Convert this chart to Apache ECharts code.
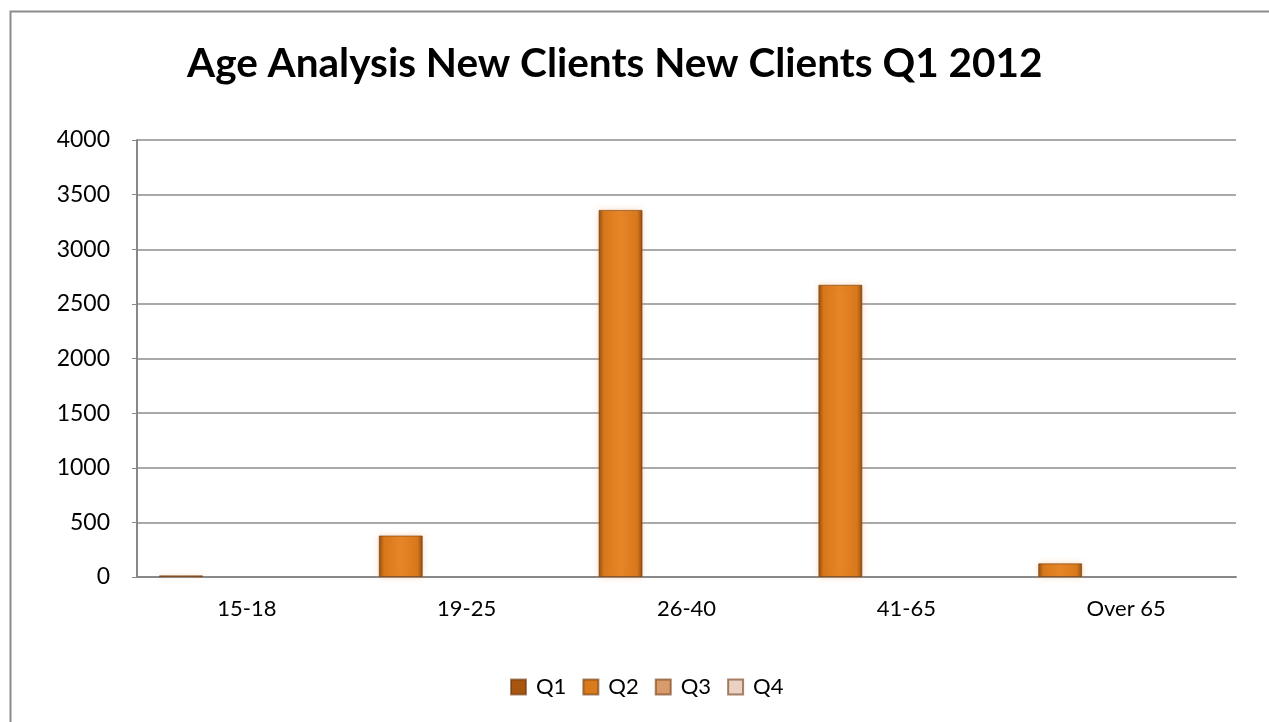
<!DOCTYPE html>
<html>
<head>
<meta charset="utf-8">
<script src="https://cdn.jsdelivr.net/npm/echarts@6/dist/echarts.min.js"></script>
<style>html,body{margin:0;padding:0;background:#fff;}#c{width:1269px;height:722px;}</style>
</head>
<body>
<div id="c"></div>
<script>
var categories = ['15-18', '19-25', '26-40', '41-65', 'Over 65'];
var seriesNames = ['Q1', 'Q2', 'Q3', 'Q4'];
var q1 = [15, 380, 3360, 2675, 125];
var q2 = [0, 0, 0, 0, 0];
var q3 = [0, 0, 0, 0, 0];
var q4 = [0, 0, 0, 0, 0];
var seriesData = [q1, q2, q3, q4];
var yTicks = { min: 0, max: 4000, interval: 500 };

var legendColors = ['#a8560f', '#d97a1c', '#d99a6c', '#e9d2c4'];
function barGrad(c0, c1, c2) {
  return new echarts.graphic.LinearGradient(0, 0, 1, 0, [
    { offset: 0, color: c0 }, { offset: 0.12, color: c1 }, { offset: 0.5, color: c2 },
    { offset: 0.88, color: c1 }, { offset: 1, color: c0 }
  ]);
}
var barColors = [barGrad('#8f4c10', '#d8781c', '#e68626'), barGrad('#b0621a', '#e48e36', '#ec9a40'),
  barGrad('#c08a62', '#e0a47a', '#e8ad84'), barGrad('#d8c0b2', '#ead6c8', '#f0ded2')];

var chart = echarts.init(document.getElementById('c'));
var font = 'Lato, "Open Sans", sans-serif';
chart.setOption({
  backgroundColor: '#fff',
  animation: false,
  graphic: [{
    type: 'rect', left: 8, top: 9, shape: { width: 1300, height: 800 },
    style: { fill: 'none', stroke: '#8c8c8c', lineWidth: 2 }, z: -1
  }],
  title: {
    text: 'Age Analysis New Clients New Clients Q1 2012',
    left: 182, top: 38,
    textStyle: { fontFamily: font, fontWeight: 'bold', fontSize: 40.5, color: '#000' }
  },
  legend: {
    data: seriesNames.map(function (n, i) { return { name: n, itemStyle: { color: legendColors[i] } }; }),
    bottom: 19, left: 505, icon: 'rect', itemWidth: 15, itemHeight: 15, itemGap: 16,
    textStyle: { fontFamily: font, fontSize: 22, color: '#000', padding: [0, 0, 0, 5] }
  },
  grid: { left: 137, right: 33, top: 140, bottom: 145, containLabel: false },
  xAxis: {
    type: 'category', data: categories,
    axisLine: { lineStyle: { color: '#888', width: 2 } },
    axisTick: { show: false },
    axisLabel: { fontFamily: font, fontSize: 22, color: '#000', margin: 21 }
  },
  yAxis: {
    type: 'value', min: yTicks.min, max: yTicks.max, interval: yTicks.interval,
    axisLine: { show: true, lineStyle: { color: '#888', width: 2 } },
    axisTick: { show: true, length: 5, lineStyle: { color: '#888' } },
    splitLine: { lineStyle: { color: '#8c8c8c', width: 1.5 } },
    axisLabel: { fontFamily: font, fontSize: 23, color: '#000', margin: 27,
      formatter: function (v) { return String(v); } }
  },
  series: seriesNames.map(function (n, i) {
    return {
      name: n, type: 'bar',
      data: seriesData[i].map(function (v) {
        return v === 0 ? { value: v, itemStyle: { borderWidth: 0, shadowBlur: 0, opacity: 0 } } : v;
      }),
      barGap: '0%', barCategoryGap: '20%',
      itemStyle: { color: barColors[i], borderColor: 'rgba(110,55,10,0.6)', borderWidth: 1,
        shadowColor: 'rgba(240,150,70,0.35)', shadowBlur: 6 }
    };
  })
});
</script>
</body>
</html>
